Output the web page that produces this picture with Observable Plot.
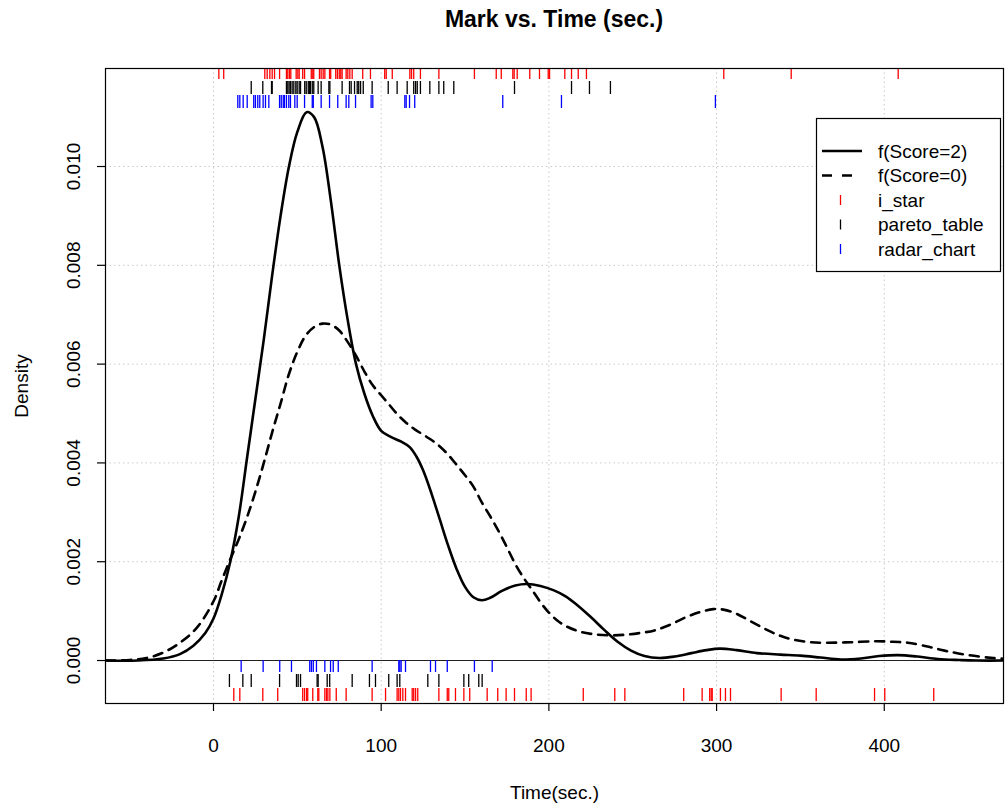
<!DOCTYPE html>
<html>
<head>
<meta charset="utf-8">
<script src="https://cdn.jsdelivr.net/npm/d3@7"></script>
<script src="https://cdn.jsdelivr.net/npm/@observablehq/plot@0.6"></script>
<style>
  body { margin: 0; background: #fff; }
  #wrap { position: relative; width: 1005px; height: 805px; font-family: "Liberation Sans", Arial, Helvetica, sans-serif; }
  #title { position: absolute; left: 105px; width: 898px; top: 6px; text-align: center; font-weight: bold; font-size: 23px; color: #000; }
</style>
</head>
<body>
<div id="wrap"><div id="title">Mark vs. Time (sec.)</div></div>
<script>
// ---- Data ----
const xTicks = [0, 100, 200, 300, 400];
const yTicks = [0, 0.002, 0.004, 0.006, 0.008, 0.010];

const score2Time = [-64, -45, -30, -20, -12, -5, 0, 5, 10, 15, 20, 25, 30, 35, 40, 45, 50, 55.5, 60, 65, 70, 75, 80, 85, 90, 95, 100, 106, 112, 117, 121, 125, 130, 135, 140, 145, 150, 155, 160, 165, 172, 180, 187, 195, 203, 210, 217, 225, 233, 241, 249, 257, 266, 275, 285, 294, 302, 312, 324, 338, 350, 362, 374, 386, 397, 408, 420, 432, 445, 455, 475];
const score2Density = [0, 0, 0.00004, 0.00013, 0.0003, 0.00055, 0.00085, 0.00135, 0.002, 0.0029, 0.0041, 0.0053, 0.0065, 0.0078, 0.0090, 0.0100, 0.0107, 0.0111, 0.0110, 0.0104, 0.0093, 0.0080, 0.0069, 0.0060, 0.0054, 0.00495, 0.00465, 0.00452, 0.00443, 0.00432, 0.00413, 0.00385, 0.00338, 0.00285, 0.00232, 0.00185, 0.00149, 0.00128, 0.00122, 0.00127, 0.00141, 0.00152, 0.00155, 0.00151, 0.00142, 0.0013, 0.00112, 0.00088, 0.00062, 0.00038, 0.0002, 0.00009, 0.00005, 0.00008, 0.00015, 0.00021, 0.00024, 0.00021, 0.00015, 0.00012, 0.0001, 0.00006, 0.00002, 0.00004, 0.00009, 0.00011, 0.00008, 0.00003, 0.00001, 0, 0];

const score0Time = [-64, -50, -40, -30, -20, -10, 0, 5, 10, 15, 20, 25, 30, 35, 40, 45, 50, 55, 60, 65, 70, 75, 80, 85, 90, 95, 100, 105, 110, 115, 120, 127, 133, 139, 145, 150, 155, 160, 165, 170, 175, 180, 185, 190, 195, 200, 205, 210, 217, 225, 235, 245, 255, 263, 272, 282, 290, 298, 304, 311, 320, 330, 338, 346, 356, 366, 380, 395, 405, 414, 425, 436, 450, 465, 475];
const score0Density = [0, 0.00001, 0.00005, 0.00016, 0.00036, 0.00066, 0.0012, 0.00163, 0.00205, 0.00245, 0.0029, 0.00342, 0.0040, 0.00462, 0.0052, 0.0058, 0.00625, 0.00658, 0.00675, 0.00682, 0.0068, 0.00668, 0.00645, 0.00617, 0.00585, 0.00557, 0.00537, 0.00517, 0.00497, 0.00481, 0.00468, 0.00453, 0.00439, 0.0042, 0.00396, 0.00375, 0.00352, 0.0032, 0.00292, 0.00262, 0.00229, 0.00195, 0.00167, 0.00143, 0.00118, 0.00097, 0.00081, 0.0007, 0.0006, 0.00054, 0.00051, 0.00052, 0.00056, 0.00061, 0.00072, 0.00088, 0.00098, 0.00104, 0.00103, 0.00096, 0.0008, 0.00062, 0.0005, 0.00042, 0.00037, 0.00036, 0.00037, 0.00039, 0.00038, 0.00036, 0.00029, 0.0002, 0.00011, 0.00005, 0.00003];

// rug values (top = Score 2, bottom = Score 0)
const topIStar = [3.2, 6.1, 30.6, 32.0, 33.6, 35.0, 36.4, 39.4, 43.5, 44.3, 45.3, 46.1, 49.3, 50.3, 51.1, 53.2, 54.3, 58.3, 59.2, 59.8, 63.2, 64.2, 65.4, 66.4, 69.2, 69.9, 72.9, 73.9, 75.0, 75.9, 76.7, 79.1, 80.1, 81.3, 82.7, 89.0, 93.6, 102.1, 103.0, 106.6, 117.1, 118.1, 119.4, 123.4, 134.4, 155.6, 168.6, 171.6, 178.5, 179.3, 181.1, 188.6, 194.4, 199.6, 200.4, 209.5, 213.5, 217.5, 222.4, 304.3, 344.5, 408.3];
const topPareto = [22.5, 29.4, 34.6, 35.0, 43.5, 44.3, 45.1, 45.9, 46.9, 47.9, 49.1, 49.9, 51.1, 51.9, 54.4, 55.3, 56.5, 57.2, 57.8, 58.9, 59.8, 62.4, 64.2, 68.8, 69.4, 76.7, 81.1, 82.1, 84.1, 85.7, 86.6, 87.7, 89.3, 94.6, 104.2, 109.5, 115.5, 119.4, 120.5, 121.5, 123.4, 129.0, 134.4, 137.3, 143.3, 179.5, 213.5, 224.2, 236.7];
const topRadar = [14.5, 15.7, 17.7, 20.1, 24.0, 25.0, 26.4, 27.6, 29.6, 31.0, 33.0, 39.4, 40.4, 41.6, 42.3, 43.5, 44.9, 45.9, 48.5, 49.9, 54.3, 58.9, 59.5, 64.2, 69.2, 74.1, 79.1, 80.7, 84.7, 94.0, 95.0, 114.1, 114.9, 116.9, 120.0, 172.5, 207.5, 299.3];
const bottomRadar = [16.5, 29.6, 39.5, 46.5, 57.4, 58.4, 59.5, 61.4, 66.4, 69.8, 71.4, 74.4, 94.6, 110.5, 111.1, 111.9, 114.5, 129.4, 132.4, 139.4, 155.6, 166.2];
const bottomPareto = [9.5, 17.5, 22.5, 39.4, 49.5, 50.5, 51.9, 61.8, 62.4, 67.8, 69.3, 82.7, 93.0, 96.6, 104.5, 109.5, 111.1, 127.8, 134.4, 149.3, 152.2, 158.2, 160.2];
const bottomIStar = [12.1, 15.7, 29.4, 38.3, 53.2, 54.3, 55.5, 56.2, 59.2, 62.2, 62.8, 66.4, 67.4, 68.2, 69.4, 73.2, 79.1, 94.6, 102.6, 109.5, 110.5, 111.5, 112.9, 114.5, 118.5, 119.4, 120.5, 121.8, 134.4, 139.4, 140.3, 144.3, 149.3, 152.8, 163.2, 169.5, 174.5, 179.5, 186.5, 189.4, 220.5, 239.3, 245.3, 280.4, 291.4, 295.9, 296.8, 297.4, 302.3, 305.3, 308.3, 338.5, 359.4, 394.2, 400.3, 429.5];

const legendLabels = ["f(Score=2)", "f(Score=0)", "i_star", "pareto_table", "radar_chart"];
const legendColors = ["black", "black", "red", "black", "blue"];

// ---- Build tables ----
const score2 = score2Time.map((t, i) => ({time: t, density: score2Density[i]}));
const score0 = score0Time.map((t, i) => ({time: t, density: score0Density[i]}));

const FONT = "Liberation Sans, Arial, Helvetica, sans-serif";
const FS = 19;
const rugW = 1.3;

const svg = Plot.plot({
  width: 1005,
  height: 805,
  marginLeft: 105,
  marginRight: 2,
  marginTop: 68,
  marginBottom: 102,
  style: {fontFamily: FONT, fontSize: FS + "px", background: "white", color: "black"},
  x: {domain: [-64.4, 471.1], axis: null},
  y: {domain: [-0.00087, 0.011984], axis: null},
  marks: [
    Plot.gridX(xTicks, {stroke: "#c8c8c8", strokeOpacity: 1, strokeDasharray: "1.5,3"}),
    Plot.gridY(yTicks, {stroke: "#c8c8c8", strokeOpacity: 1, strokeDasharray: "1.5,3"}),
    Plot.ruleY([0], {stroke: "#222", strokeWidth: 1.2}),
    Plot.line(score0, {x: "time", y: "density", stroke: "black", strokeWidth: 2.6, strokeDasharray: "9,7", curve: "catmull-rom", clip: true}),
    Plot.line(score2, {x: "time", y: "density", stroke: "black", strokeWidth: 2.6, curve: "catmull-rom", clip: true}),
    // top rugs
    Plot.ruleX(topIStar, {x: d => d, stroke: "red", strokeWidth: rugW, insetTop: 0, insetBottom: 624}),
    Plot.ruleX(topPareto, {x: d => d, stroke: "black", strokeWidth: rugW, insetTop: 13, insetBottom: 609}),
    Plot.ruleX(topRadar, {x: d => d, stroke: "blue", strokeWidth: rugW, insetTop: 27, insetBottom: 595}),
    // bottom rugs
    Plot.ruleX(bottomRadar, {x: d => d, stroke: "blue", strokeWidth: rugW, insetTop: 592, insetBottom: 31}),
    Plot.ruleX(bottomPareto, {x: d => d, stroke: "black", strokeWidth: rugW, insetTop: 606, insetBottom: 16}),
    Plot.ruleX(bottomIStar, {x: d => d, stroke: "red", strokeWidth: rugW, insetTop: 620, insetBottom: 2}),
    Plot.frame({stroke: "black", strokeWidth: 1.2}),
    // axes
    Plot.axisX(xTicks, {tickSize: 8, tickFormat: () => "", label: null, strokeWidth: 1.2}),
    Plot.axisY(yTicks, {tickSize: 8, tickFormat: () => "", label: null, strokeWidth: 1.2}),
    Plot.text(xTicks, {x: d => d, text: d => String(d), frameAnchor: "bottom", dy: 42, lineAnchor: "middle", fontSize: FS, fill: "black"}),
    Plot.text(yTicks, {y: d => d, text: d => d3.format(".3f")(d), frameAnchor: "left", dx: -32, rotate: -90, textAnchor: "middle", lineAnchor: "middle", fontSize: FS, fill: "black"}),
    Plot.text(["Time(sec.)"], {text: d => d, frameAnchor: "bottom", dy: 89, lineAnchor: "middle", fontSize: FS, fill: "black"}),
    Plot.text(["Density"], {text: d => d, frameAnchor: "left", dx: -84, rotate: -90, textAnchor: "middle", lineAnchor: "middle", fontSize: FS, fill: "black"})
  ]
});

// ---- Legend ----
const g = d3.select(svg).append("g").attr("font-family", FONT).attr("font-size", FS).attr("text-anchor", "start");
g.append("rect").attr("x", 816.5).attr("y", 118.5).attr("width", 184).attr("height", 153)
  .attr("fill", "white").attr("stroke", "black").attr("stroke-width", 1.2);
legendLabels.forEach((lab, i) => {
  const cy = 151 + i * 24.5;
  if (i < 2) {
    g.append("line").attr("x1", 822).attr("x2", 862).attr("y1", cy).attr("y2", cy)
      .attr("stroke", "black").attr("stroke-width", 2.6)
      .attr("stroke-dasharray", i === 1 ? "10,10" : null);
  } else {
    g.append("line").attr("x1", 840.5).attr("x2", 840.5).attr("y1", cy - 5).attr("y2", cy + 5)
      .attr("stroke", legendColors[i]).attr("stroke-width", 1.3);
  }
  g.append("text").attr("x", 878).attr("y", cy).attr("dy", "0.35em").attr("text-anchor", "start").attr("fill", "black").text(lab);
});

document.getElementById("wrap").prepend(svg);
</script>
</body>
</html>
